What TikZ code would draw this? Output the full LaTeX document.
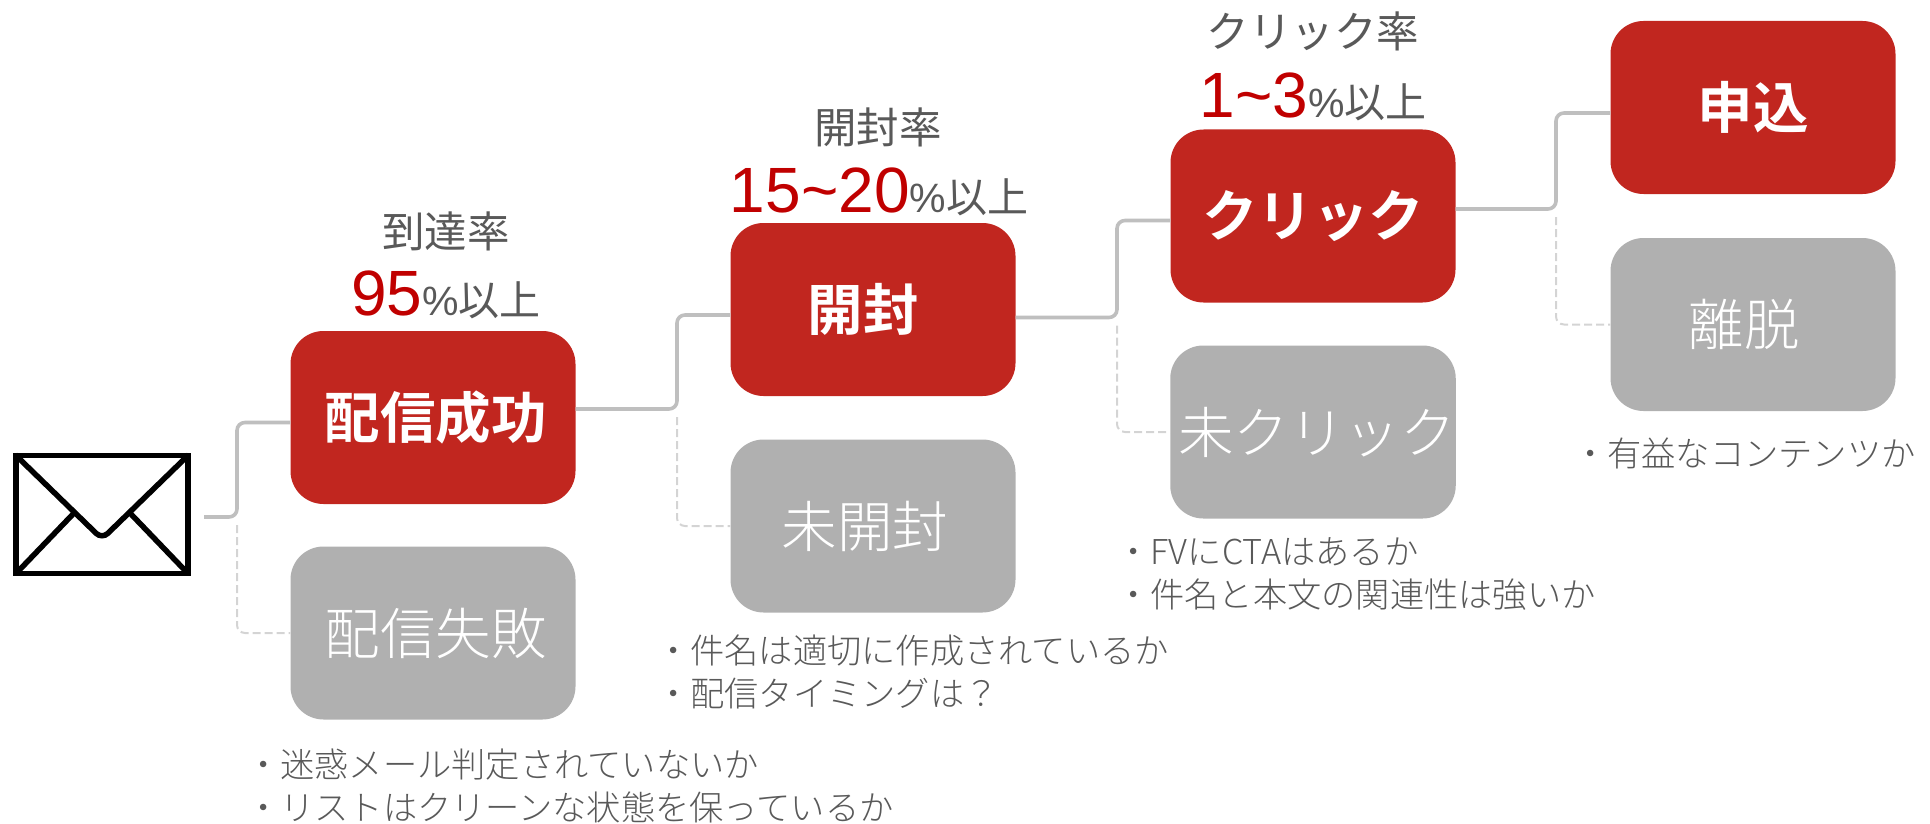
\documentclass[tikz,border=0pt]{standalone}
\usepackage{fontspec}
\setmainfont{Liberation Sans}
\newfontfamily\cjk[BoldFont={Noto Sans CJK JP Bold}]{Noto Sans CJK JP}
\newfontfamily\cjkl{Noto Sans CJK JP Light}
\newcommand{\fs}[1]{\fontsize{#1}{#1}\selectfont}
\definecolor{okred}{HTML}{C1261F}
\definecolor{nggray}{HTML}{B0B0B0}
\definecolor{txtgray}{HTML}{595959}
\definecolor{numred}{HTML}{C00000}
\definecolor{linegray}{HTML}{BFBFBF}
\definecolor{dashgray}{HTML}{D4D4D4}
\tikzset{
  boxbase/.style={minimum width=285pt,minimum height=173pt,inner sep=0pt,rounded corners=33pt,text=white},
  okbox/.style={boxbase,fill=okred,font=\cjk\bfseries\fs{55.5}},
  ngbox/.style={boxbase,fill=nggray,font=\cjkl\fs{55.5}},
  conn/.style={draw=linegray,line width=3.6pt,rounded corners=8pt},
  dconn/.style={draw=dashgray,line width=2pt,rounded corners=8pt,dash pattern=on 8pt off 4pt},
  ratelabel/.style={inner sep=0pt,text=txtgray,font=\cjk\fs{42.5}},
  ratevalue/.style={inner sep=0pt,text=txtgray},
  note/.style={inner sep=0pt,anchor=west,align=left,text=txtgray,font=\cjkl\fontsize{34.25}{43}\selectfont},
  mailline/.style={draw=black,line width=5.5pt},
}
\newcommand{\rate}[1]{{\color{numred}\fs{64}#1}{\fs{41}\%{\cjk 以上}}}
\begin{document}
\begin{tikzpicture}[x=1pt,y=-1pt]
\useasboundingbox (0,0) rectangle (1930,824);
% boxes
\node[okbox] (s1) at (433,417.5) {\kern5pt 配信成功};
\node[ngbox] (f1) at (433,633) {\kern5pt 配信失敗};
\node[okbox] (s2) at (873,309.5) {\kern-20pt 開封};
\node[ngbox] (f2) at (873,526) {\kern-16pt 未開封};
\node[okbox] (s3) at (1313,216) {クリック};
\node[ngbox] (f3) at (1313,432) {\kern8pt 未クリック};
\node[okbox] (s4) at (1753,107.5) {申込};
\node[ngbox] (f4) at (1753,324.5) {\kern-18pt 離脱};
% labels
\node[ratelabel] (l1) at (446,231) {到達率};
\node[ratevalue] (v1) at (446,295) {\rate{95}};
\node[ratelabel] (l2) at (878,127) {開封率};
\node[ratevalue] (v2) at (879,192) {\rate{15\textasciitilde20}};
\node[ratelabel] (l3) at (1313,31) {クリック率};
\node[ratevalue] (v3) at (1313,97) {\rate{1\textasciitilde3}};
% notes
\node[note] (n1) at (246,786) {・迷惑メール判定されていないか\\・リストはクリーンな状態を保っているか};
\node[note] (n2) at (656,672) {・件名は適切に作成されているか\\・配信タイミングは？};
\node[note] (n3) at (1116,574) {・FVにCTAはあるか\\・件名と本文の関連性は強いか};
\node[note] (n4) at (1573,453) {・有益なコンテンツか};
% envelope
\node[draw=black,line width=5.5pt,minimum width=172pt,minimum height=118pt,inner sep=0pt] (mail) at (102,514.5) {};
\draw[mailline,rounded corners=8pt] ([shift={(2,2)}]mail.north west) -- (102,539) -- ([shift={(-2,2)}]mail.north east);
\draw[mailline] ([shift={(3,-3)}]mail.south west) -- (75,512);
\draw[mailline] ([shift={(-3,-3)}]mail.south east) -- (129,512);
% connector ends
\coordinate (mailout) at (204,517);
\coordinate (j1) at (237,517);
\coordinate (j2) at (677,409);
\coordinate (j3) at (1117,317.5);
\coordinate (j4) at (1556,209);
\coordinate (i1) at (s1.west |- 0,422.5);
\coordinate (i2) at (s2.west |- 0,315);
\coordinate (i3) at (s3.west |- 0,220.5);
\coordinate (i4) at (s4.west |- 0,113);
\coordinate (o1) at (s1.east |- j2);
\coordinate (o2) at (s2.east |- j3);
\coordinate (o3) at (s3.east |- j4);
% connectors
\draw[conn] (mailout) -- (j1) |- (i1);
\draw[conn] (o1) -- (j2) |- (i2);
\draw[conn] (o2) -- (j3) |- (i3);
\draw[conn] (o3) -- (j4) |- (i4);
\draw[dconn] ([yshift=-8pt]j1) |- (f1.west);
\draw[dconn] ([yshift=-8pt]j2) |- (f2.west);
\draw[dconn] ([yshift=-8pt]j3) |- (f3.west);
\draw[dconn] ([yshift=-8pt]j4) |- (f4.west);
\end{tikzpicture}
\end{document}
